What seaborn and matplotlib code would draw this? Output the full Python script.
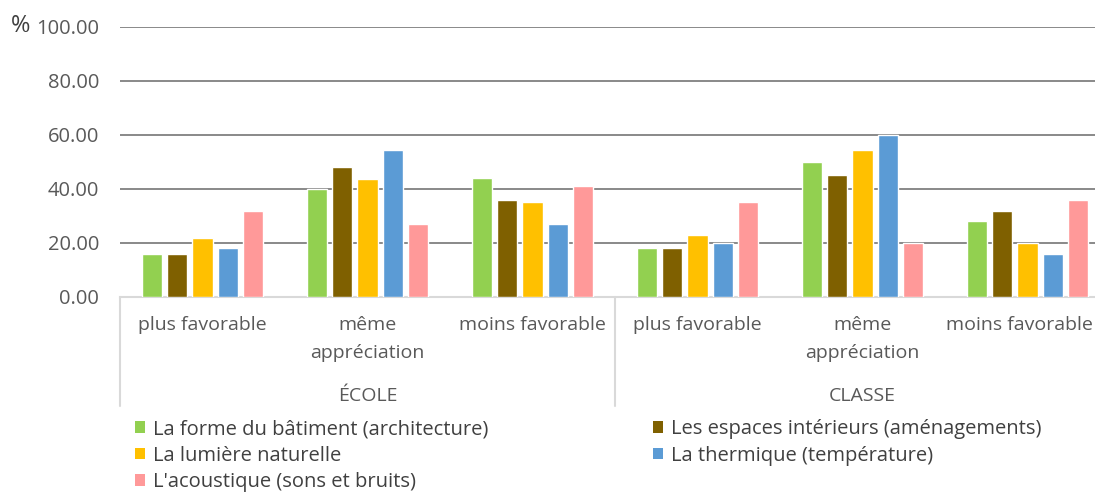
import numpy as np
import pandas as pd
import matplotlib
matplotlib.use("Agg")
import matplotlib.pyplot as plt
import matplotlib.transforms as mtransforms
from matplotlib.patches import Patch
import seaborn as sns

# Survey answers (%), grouped by place and appreciation
groups = ["ÉCOLE", "CLASSE"]
appreciations = ["plus favorable", "même\nappréciation", "moins favorable"]
series = [
    "La forme du bâtiment (architecture)",
    "Les espaces intérieurs (aménagements)",
    "La lumière naturelle",
    "La thermique (température)",
    "L'acoustique (sons et bruits)",
]
forme = [16, 40, 44, 18, 50, 28]
espaces = [16, 48, 36, 18, 45.3, 32]
lumiere = [22, 43.6, 35, 23, 54.5, 20]
thermique = [18, 54.4, 27, 20, 60, 16]
acoustique = [32, 27, 41, 35, 20, 36]
colors = ["#92D050", "#7F6000", "#FFC000", "#5B9BD5", "#FF9999"]
yticks = [0, 20, 40, 60, 80, 100]

text_color = "#595959"

sns.set_theme(style="white")
plt.rcParams["font.family"] = ["Open Sans", "DejaVu Sans"]

# Long-form table
slots = [f"{g}|{a}" for g in groups for a in appreciations]
rows = []
for name, vals in zip(series, [forme, espaces, lumiere, thermique, acoustique]):
    for slot, v in zip(slots, vals):
        rows.append({"slot": slot, "serie": name, "valeur": v})
df = pd.DataFrame(rows)

fig = plt.figure(figsize=(10.95, 4.92), dpi=100)
ax = fig.add_axes([120 / 1095, 1 - 297 / 492, 990 / 1095, 270.3 / 492])

sns.barplot(data=df, x="slot", y="valeur", hue="serie", order=slots,
            hue_order=series, palette=colors, width=0.77, gap=0.2,
            saturation=1, ax=ax, legend=False, zorder=3)

ax.set_ylim(0, 100)
ax.set_xlim(-0.5, len(slots) - 0.5)
ax.set_yticks(yticks)
ax.set_yticklabels([f"{t:.2f}" for t in yticks], fontsize=14.5, color=text_color)
ax.tick_params(axis="y", length=0, pad=15)
ax.set_xticks([])
ax.set_xlabel("")
ax.set_ylabel("")

for t in yticks[1:]:
    ax.axhline(t, color="#808080", lw=1.3, zorder=1)

for s in ["top", "right", "left"]:
    ax.spines[s].set_visible(False)
ax.spines["bottom"].set_color("#D9D9D9")
ax.spines["bottom"].set_linewidth(1.5)

trans = mtransforms.blended_transform_factory(ax.transData, ax.transAxes)
edge_trans = mtransforms.blended_transform_factory(fig.transFigure, ax.transAxes)
# category labels (the last one is kept inside the figure's right edge)
for i, slot in enumerate(slots):
    label = slot.split("|")[1]
    if i == len(slots) - 1:
        ax.text(1093 / 1095, -0.072, label, transform=edge_trans, ha="right",
                va="top", fontsize=14, color=text_color, linespacing=1.65)
    else:
        ax.text(i, -0.072, label, transform=trans, ha="center", va="top",
                fontsize=14, color=text_color, linespacing=1.65)
# group labels and separators
n = len(appreciations)
for gi, g in enumerate(groups):
    center = gi * n + (n - 1) / 2
    ax.text(center, -0.365, g, transform=trans, ha="center", va="center",
            fontsize=14, color=text_color)
for b in range(len(groups) + 1):
    xb = b * n - 0.5
    ax.plot([xb, xb], [0, -0.405], transform=trans, color="#D9D9D9",
            lw=1.5, clip_on=False)

fig.text(11 / 1095, 1 - 26 / 492, "%", fontsize=17, color="#404040",
         ha="left", va="center")

# legend, row-major in two columns
handles = [Patch(facecolor=c, edgecolor="none") for c in colors]
leg_kw = dict(frameon=False, fontsize=14.5, handlelength=0.5,
              handleheight=0.5, handletextpad=0.4, labelspacing=0.33,
              borderpad=0, borderaxespad=0, labelcolor="#404040")
leg1 = fig.legend([handles[i] for i in (0, 2, 4)], [series[i] for i in (0, 2, 4)],
                  loc="upper left", bbox_to_anchor=(135 / 1095, 1 - 419 / 492), **leg_kw)
leg2 = fig.legend([handles[i] for i in (1, 3)], [series[i] for i in (1, 3)],
                  loc="upper left", bbox_to_anchor=(653 / 1095, 1 - 419 / 492), **leg_kw)

fig.savefig("out.png", dpi=100)
